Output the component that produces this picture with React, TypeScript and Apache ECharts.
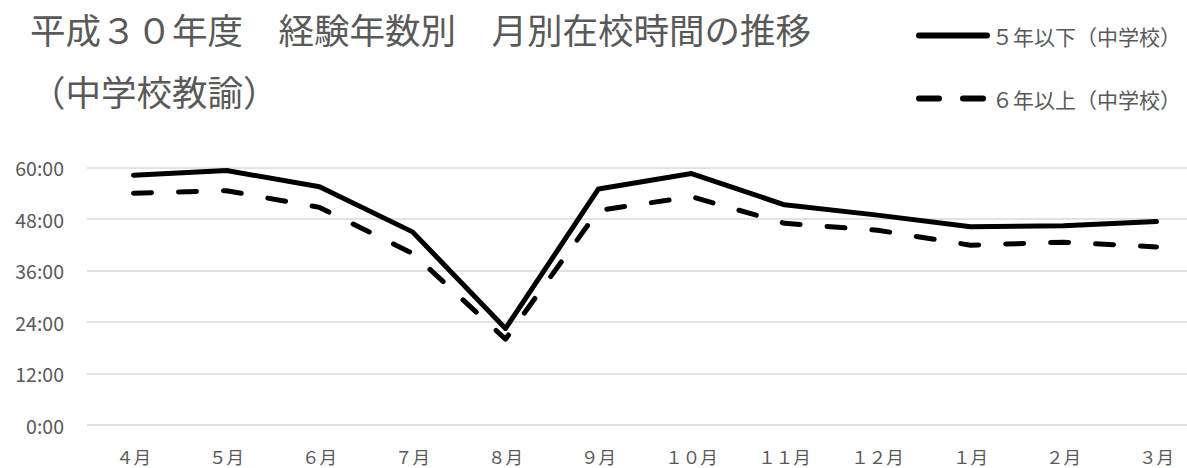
import React, { useEffect, useRef } from "react";
import * as echarts from "echarts";

const titleText = "平成３０年度　経験年数別　月別在校時間の推移\n（中学校教諭）";
const months = ["４月", "５月", "６月", "７月", "８月", "９月", "１０月", "１１月", "１２月", "１月", "２月", "３月"];
const seriesNames = ["５年以下（中学校）", "６年以上（中学校）"];
const under5 = [58.2, 59.3, 55.5, 45.0, 22.5, 55.0, 58.6, 51.3, 48.9, 46.2, 46.4, 47.4];
const over6 = [54.0, 54.6, 50.7, 40.0, 20.0, 50.0, 53.2, 47.0, 45.4, 41.9, 42.6, 41.5];
const yTicks = { min: 0, max: 60, interval: 12 };

const FONT = "'Noto Sans CJK JP', 'Noto Sans', sans-serif";
const GRAY = "#595959";
const CHART_W = 1203;

export default function App() {
  const ref = useRef<HTMLDivElement>(null);
  useEffect(() => {
    if (!ref.current) return;
    const chart = echarts.init(ref.current, null, { renderer: "svg" });
    const legendBase = {
      orient: "horizontal",
      right: CHART_W - 1181,
      padding: 0,
      itemWidth: 68,
      itemHeight: 14,
      itemGap: 5,
      textStyle: { color: GRAY, fontSize: 21, fontFamily: FONT },
      itemStyle: { opacity: 0 },
      selectedMode: false,
    };
    chart.setOption({
      animation: false,
      backgroundColor: "#ffffff",
      title: {
        text: titleText,
        left: 30,
        top: -3,
        padding: 0,
        textStyle: {
          color: GRAY,
          fontSize: 35.5,
          fontWeight: "normal",
          fontFamily: FONT,
          lineHeight: 62,
        },
      },
      legend: [
        {
          ...legendBase,
          top: 25,
          data: [seriesNames[0]],
          lineStyle: { width: 6, cap: "round", color: "#000000" },
        },
        {
          ...legendBase,
          top: 88,
          data: [seriesNames[1]],
          lineStyle: { width: 6, cap: "round", color: "#000000", type: [20, 24] },
        },
      ],
      grid: { left: 87, right: 0, top: 167.5, bottom: 43 },
      xAxis: {
        type: "category",
        data: months,
        boundaryGap: true,
        axisLine: { show: false },
        axisTick: { show: false },
        axisLabel: { color: GRAY, fontSize: 17.5, fontFamily: FONT, margin: 23 },
      },
      yAxis: {
        type: "value",
        min: yTicks.min,
        max: yTicks.max,
        interval: yTicks.interval,
        axisLine: { show: false },
        axisTick: { show: false },
        axisLabel: {
          color: GRAY,
          fontSize: 19.5,
          fontFamily: FONT,
          margin: 23,
          formatter: (v: number) => `${v}:00`,
        },
        splitLine: { lineStyle: { color: "#d9d9d9", width: 1.5 } },
      },
      series: [
        {
          name: seriesNames[0],
          type: "line",
          data: under5,
          symbol: "none",
          lineStyle: { color: "#000000", width: 5, cap: "round", join: "round" },
          itemStyle: { color: "#000000" },
        },
        {
          name: seriesNames[1],
          type: "line",
          data: over6,
          symbol: "none",
          lineStyle: { color: "#000000", width: 5, type: [18, 27], cap: "round", join: "round" },
          itemStyle: { color: "#000000" },
        },
      ],
    });
    return () => chart.dispose();
  }, []);
  return (
    <div
      style={{ position: "absolute", left: 0, top: 0, width: 1187, height: 468, overflow: "hidden", background: "#fff" }}
    >
      <div ref={ref} style={{ width: CHART_W, height: 468 }} />
    </div>
  );
}
